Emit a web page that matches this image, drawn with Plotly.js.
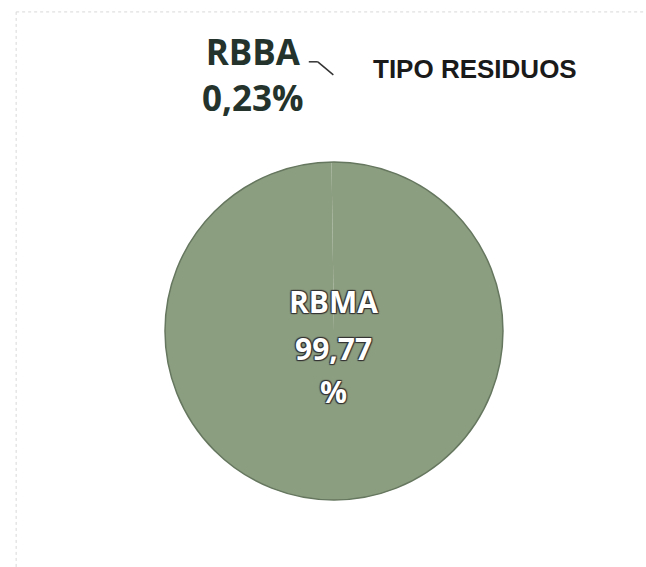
<!DOCTYPE html>
<html>
<head>
<meta charset="utf-8">
<script src="https://cdn.plot.ly/plotly-3.0.1.min.js"></script>
<style>html,body{margin:0;padding:0;background:#fff;}#chart{width:646px;height:567px;}</style>
</head>
<body>
<div id="chart"></div>
<script>
const categories = ["RBMA", "RBBA"];
const values = [99.77, 0.23];
const valueLabels = ["99,77", "0,23"];
const chartTitle = "TIPO RESIDUOS";

const trace = {
  type: "pie",
  labels: categories,
  values: values,
  sort: false,
  direction: "clockwise",
  rotation: 0,
  textinfo: "none",
  marker: {colors: ["#8c9e80", "#8c9e80"], line: {width: 0}},
  domain: {x: [0.2554, 0.7786], y: [0.1182, 0.7143]},
  hoverinfo: "label+percent",
  showlegend: false
};

const shadow = "1px 1px 1px #333, -1px -1px 1px #333, 1px -1px 1px #333, -1px 1px 1px #333";
const innerFont = {family: "Open Sans", size: 30, color: "#ffffff", weight: "bold", shadow: shadow};
const innerLines = [categories[0], valueLabels[0], "%"];
const innerY = [0.469, 0.386, 0.309];

const annotations = [
  {text: "<b>" + chartTitle + "</b>", xref: "paper", yref: "paper", x: 0.735, y: 0.879,
   xanchor: "center", yanchor: "middle", showarrow: false,
   font: {family: "Liberation Sans", size: 26, color: "#1a1a1a"}},
  {text: "<b>" + categories[1] + "<br>" + valueLabels[1] + "%</b>", xref: "paper", yref: "paper",
   x: 0.392, y: 0.868, xanchor: "center", yanchor: "middle", showarrow: false, align: "center",
   font: {family: "Open Sans", size: 35, color: "#24332b"}}
];
innerLines.forEach((t, i) => annotations.push({
  text: "<b>" + t + "</b>", xref: "paper", yref: "paper", x: 0.517, y: innerY[i],
  xanchor: "center", yanchor: "middle", showarrow: false, font: innerFont
}));

const layout = {
  width: 646, height: 567,
  margin: {l: 0, r: 0, t: 0, b: 0},
  paper_bgcolor: "#ffffff",
  showlegend: false,
  annotations: annotations,
  shapes: [
    {type: "circle", xref: "paper", yref: "paper", x0: 0.2554, y0: 0.1182, x1: 0.7786, y1: 0.7143,
     line: {color: "#66775f", width: 1.5}},
    {type: "line", xref: "paper", yref: "paper", x0: 0.478, y0: 0.891, x1: 0.492, y1: 0.891,
     line: {color: "#333", width: 1.5}},
    {type: "line", xref: "paper", yref: "paper", x0: 0.492, y0: 0.891, x1: 0.516, y1: 0.868,
     line: {color: "#333", width: 1.5}},
    {type: "line", xref: "paper", yref: "paper", x0: 0.025, y0: 0.979, x1: 1, y1: 0.979,
     line: {color: "#d8d8d8", width: 1, dash: "dot"}},
    {type: "line", xref: "paper", yref: "paper", x0: 0.025, y0: 0.979, x1: 0.025, y1: 0,
     line: {color: "#d8d8d8", width: 1, dash: "dot"}}
  ]
};

Plotly.newPlot("chart", [trace], layout, {displayModeBar: false, staticPlot: true});
</script>
</body>
</html>
